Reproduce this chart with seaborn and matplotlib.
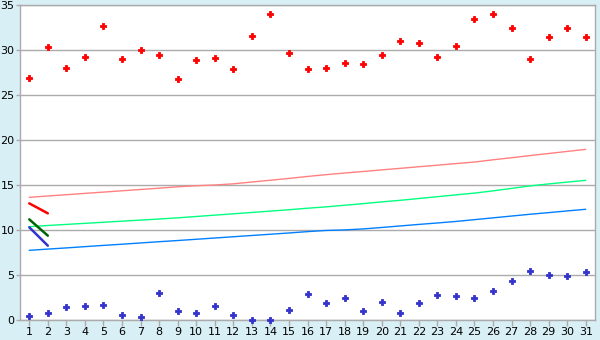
import matplotlib
matplotlib.use("Agg")
import matplotlib.pyplot as plt
import seaborn as sns
import numpy as np
import pandas as pd

days = list(range(1, 32))
red_points = [26.85, 30.3, 27.96, 29.2, 32.7, 28.96, 29.96, 29.4, 26.74, 28.85,
              29.07, 27.85, 31.6, 33.96, 29.63, 27.85, 27.96, 28.6, 28.4, 29.4,
              30.96, 30.74, 29.18, 30.4, 33.5, 33.96, 32.4, 28.96, 31.5, 32.5, 31.5]
blue_points = [0.44, 0.74, 1.41, 1.52, 1.63, 0.52, 0.3, 2.96, 0.96, 0.74,
               1.52, 0.52, 0.0, 0.0, 1.07, 2.85, 1.85, 2.41, 0.96, 1.96,
               0.74, 1.85, 2.74, 2.63, 2.41, 3.19, 4.3, 5.41, 4.96, 4.85, 5.3]
pink_line = [13.63, 13.78, 13.92, 14.07, 14.21, 14.36, 14.5, 14.65, 14.8, 14.92,
             15.0, 15.13, 15.33, 15.53, 15.73, 15.95, 16.15, 16.33, 16.5, 16.68,
             16.85, 17.03, 17.2, 17.38, 17.55, 17.8, 18.03, 18.27, 18.5, 18.73, 18.96]
green_line = [10.37, 10.5, 10.62, 10.74, 10.86, 10.98, 11.1, 11.22, 11.35, 11.5,
              11.65, 11.8, 11.95, 12.1, 12.25, 12.42, 12.57, 12.75, 12.93, 13.12,
              13.3, 13.5, 13.7, 13.9, 14.1, 14.35, 14.62, 14.9, 15.12, 15.32, 15.52]
blue_line = [7.74, 7.88, 8.01, 8.15, 8.29, 8.42, 8.56, 8.7, 8.83, 8.97,
             9.11, 9.25, 9.39, 9.53, 9.67, 9.82, 9.95, 10.01, 10.12, 10.28,
             10.45, 10.62, 10.78, 10.95, 11.15, 11.35, 11.55, 11.75, 11.93, 12.12, 12.3]
short_days = [1, 2]
short_red = [12.96, 11.85]
short_green = [11.18, 9.37]
short_blue = [10.3, 8.26]
y_ticks = [0, 5, 10, 15, 20, 25, 30, 35]

sns.set_theme(style="white")
plt.rcParams['font.family'] = ['DejaVu Sans']

bg = "#D9EFF6"
grid_c = "#ABABAB"
fig = plt.figure(figsize=(6, 3.4), dpi=100, facecolor=bg)
ax = fig.add_axes([20/600, 20/340, 575/600, 315/340])
ax.set_facecolor("white")

df = pd.DataFrame({"day": days, "red": red_points, "blue": blue_points,
                   "pink": pink_line, "green": green_line, "bline": blue_line})
sdf = pd.DataFrame({"day": short_days, "r": short_red, "g": short_green, "b": short_blue})

for col, c in [("pink", "#FF8080"), ("green", "#00FF80"), ("bline", "#0080FF")]:
    sns.lineplot(data=df, x="day", y=col, ax=ax, color=c, lw=1.0, zorder=3)
for col, c in [("r", "#FF0000"), ("g", "#006400"), ("b", "#3333CC")]:
    sns.lineplot(data=sdf, x="day", y=col, ax=ax, color=c, lw=1.8, zorder=4)

sns.scatterplot(data=df, x="day", y="red", ax=ax, color="#FF0000", marker="P",
                s=14, linewidth=0.6, edgecolor="#FF0000", zorder=5, clip_on=False)
sns.scatterplot(data=df, x="day", y="blue", ax=ax, color="#3333CC", marker="P",
                s=14, linewidth=0.6, edgecolor="#3333CC", zorder=5, clip_on=False)

ax.set_xlim(0.5, 31.5)
ax.set_ylim(0, 35)
ax.set_xticks(days)
ax.set_xticklabels([str(d) for d in days])
ax.set_yticks(y_ticks)
ax.set_yticklabels([str(v) for v in y_ticks])
ax.set_xlabel("")
ax.set_ylabel("")
ax.yaxis.grid(True, color=grid_c, lw=1)
ax.xaxis.grid(False)
ax.set_axisbelow(True)
for s in ax.spines.values():
    s.set_color(grid_c)
    s.set_linewidth(1)
ax.tick_params(axis="both", colors=grid_c, labelcolor="black", labelsize=8,
               length=4, width=1, pad=1, left=True, bottom=True)
ax.tick_params(axis="y", length=3, pad=1)

fig.savefig("out.png", dpi=100, facecolor=bg)
